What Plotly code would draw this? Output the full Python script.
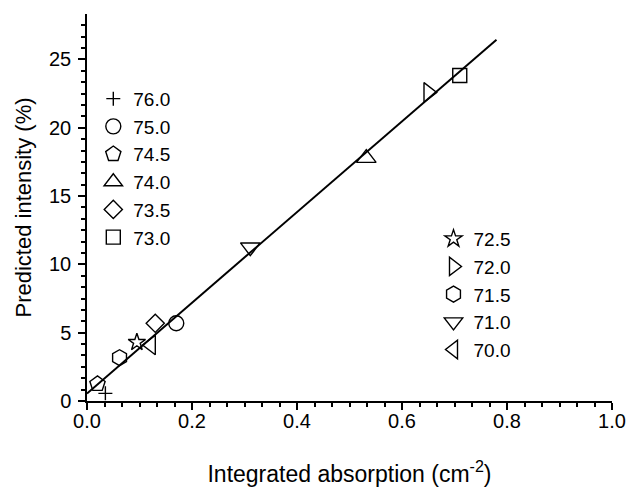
import plotly.graph_objects as go

# Series labels, symbols and values
labels = ["76.0", "75.0", "74.5", "74.0", "73.5", "73.0",
          "72.5", "72.0", "71.5", "71.0", "70.0"]
symbols = ["cross-thin-open", "circle-open", "pentagon-open", "triangle-up-open",
           "diamond-open", "square-open", "star-open", "triangle-right-open",
           "hexagon-open", "triangle-down-open", "triangle-left-open"]
sizes = [10, 15, 16, 17, 14, 14, 13, 17, 16, 17, 17]
x_vals = [0.035, 0.170, 0.020, 0.532, 0.130, 0.710, 0.095, 0.650, 0.062, 0.311, 0.122]
y_vals = [0.56, 5.69, 1.25, 17.78, 5.69, 23.83, 4.30, 22.59, 3.17, 11.26, 4.10]
legend_of = ["legend"] * 6 + ["legend2"] * 5

fit_x = [0.0, 0.78]
fit_y = [0.55, 26.45]

x_ticks = [0.0, 0.2, 0.4, 0.6, 0.8, 1.0]
x_ticktext = ["0.0", "0.2", "0.4", "0.6", "0.8", "1.0"]
y_ticks = [0, 5, 10, 15, 20, 25]

FONT = "Arial, Liberation Sans, sans-serif"

fig = go.Figure()
fig.add_trace(go.Scatter(x=fit_x, y=fit_y, mode="lines",
                         line=dict(color="black", width=2), showlegend=False,
                         cliponaxis=False))
for lab, sym, sz, xv, yv, lg in zip(labels, symbols, sizes, x_vals, y_vals, legend_of):
    fig.add_trace(go.Scatter(
        x=[xv], y=[yv], mode="markers", name=lab, legend=lg,
        marker=dict(symbol=sym, size=sz, color="black",
                    line=dict(color="black", width=1.4)),
        cliponaxis=False))

axis_common = dict(
    showline=True, linecolor="black", linewidth=1.5,
    ticks="outside", ticklen=7, tickwidth=1.5, tickcolor="black",
    showgrid=False, zeroline=False, mirror=False, automargin=False,
    tickfont=dict(family=FONT, size=20, color="black"),
)

fig.update_xaxes(
    range=[0, 1.0], tickvals=x_ticks, ticktext=x_ticktext,
    ticklabelstandoff=-6,
    minor=dict(dtick=0.2 / 6, ticks="outside", ticklen=4, tickwidth=1.5, tickcolor="black", tick0=0),
    title=dict(text="Integrated absorption (cm<sup>-2</sup>)",
               font=dict(family=FONT, size=23, color="black"), standoff=44),
    **axis_common)
fig.update_yaxes(
    range=[0, 28.33], tickvals=y_ticks,
    ticklabelstandoff=3,
    minor=dict(dtick=5 / 6, ticks="outside", ticklen=4, tickwidth=1.5, tickcolor="black", tick0=0),
    title=dict(text="Predicted intensity (%)",
               font=dict(family=FONT, size=22, color="black"), standoff=11),
    **axis_common)

leg_common = dict(font=dict(family=FONT, size=19, color="black"),
                  bgcolor="rgba(0,0,0,0)", borderwidth=0,
                  xanchor="left", yanchor="top", itemsizing="trace",
                  tracegroupgap=0)
fig.update_layout(
    width=637, height=487,
    margin=dict(l=87, r=25, t=14, b=86, autoexpand=False),
    paper_bgcolor="white", plot_bgcolor="white",
    font=dict(family=FONT, color="black"),
    legend=dict(x=0.012, y=0.83, **leg_common),
    legend2=dict(x=0.66, y=0.468, **leg_common),
)

fig.write_html("out.html", config={"displayModeBar": False},
               post_script="document.body.style.margin='0px';")
